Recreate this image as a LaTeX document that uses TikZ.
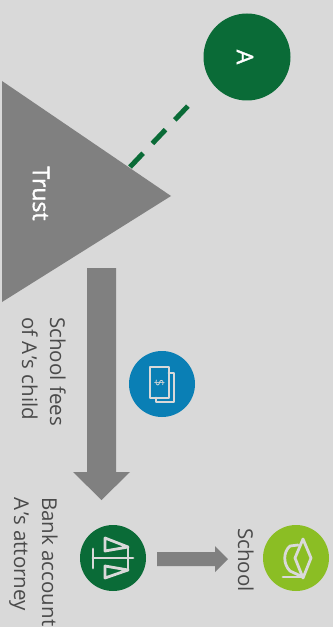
\documentclass[tikz,border=0pt]{standalone}
\usepackage{fontspec}
\setmainfont{Open Sans}[Scale=1]
\newfontfamily\semifont{Open Sans}[FakeBold=1.6]
\definecolor{bg}{HTML}{D9D9D9}
\definecolor{gry}{HTML}{808080}
\definecolor{grn}{HTML}{0A6B37}
\definecolor{blu}{HTML}{0A7FB5}
\definecolor{lim}{HTML}{8BBE24}
\definecolor{txt}{HTML}{4A4A4A}
\tikzset{
  disc/.style={circle,minimum size=66bp,inner sep=0pt,fill=#1},
  lab/.style={rotate=-90,align=left,anchor=north west,inner sep=0pt,text=txt,font=\fontsize{20.5bp}{28bp}\selectfont},
  glyph/.style={draw=bg,line width=2.8bp,line join=round,line cap=round},
  block/.style={fill=gry,draw=none}
}
\begin{document}
\begin{tikzpicture}[x=1bp,y=-1bp]
\fill[bg] (0,0) rectangle (333,627);
\useasboundingbox (0,0) rectangle (333,627);
\clip (0,0) rectangle (333,627);
% trust triangle
\fill[gry] (2,81) -- (171,196) -- (2,302) -- cycle;
\node[text=white,rotate=-90,inner sep=0pt,font=\fontsize{23bp}{26bp}\semifont] (trust) at (41,193.5) {Trust};
% circles
\node[disc=grn,minimum size=87bp] (a) at (247,57) {};
\node[rotate=-90,text=white,inner sep=0pt,font=\fontsize{23bp}{26bp}\semifont] (alabel) at (245,57) {A};
\node[disc=blu] (money) at (162,384) {};
\node[disc=grn] (bank) at (113,558) {};
\node[disc=lim] (school) at (296,558) {};
% dashed connector
\coordinate (dashstart) at (130,167);
\coordinate (dashend) at (188,106);
\draw[grn,line width=5bp,dash pattern=on 19bp off 13.5bp] (dashstart) -- (dashend);
% block arrows
\fill[block] (87,268) -- (116,268) -- (116,472) -- (130,472) -- (101.5,500) -- (73,472) -- (87,472) -- cycle;
\fill[block] (157,552) -- (215,552) -- (215,546) -- (228,559) -- (215,572) -- (215,566) -- (157,566) -- cycle;
% labels
\node[lab] (feeslabel) at (66,317) {School fees\\of A\kern2bp’s child};
\node[lab] (banklabel) at (58,497) {Bank account\\A\kern2bp’s attorney};
\node[lab,anchor=north] (schoollabel) at (254,560) {School};
% money icon
\draw[glyph] (156,398) -- (156,402) -- (174,402) -- (174,373) -- (169,373);
\draw[glyph] (150,367) rectangle (169,398);
\node[rotate=-90,text=bg,inner sep=0pt,font=\fontsize{12.5bp}{13bp}\selectfont] (dollar) at (159.5,383) {\$};
% scales icon
\draw[glyph] (93,549) -- (93,568);
\draw[glyph] (93,558) -- (133,558);
\draw[glyph] (105,538) -- (105,551) -- (128,547) -- cycle;
\draw[glyph] (128,547) -- (128,570);
\draw[glyph] (105,578) -- (105,566) -- (128,570) -- cycle;
% cap icon
\draw[glyph] (303,539) -- (311,558) -- (303,578) -- (295,558) -- cycle;
\draw[glyph] (298,545) -- (290,546) .. controls (283,552) and (283,564) .. (290,571) -- (303,577);
\draw[glyph] (283,577) -- (303,577);
\end{tikzpicture}
\end{document}
